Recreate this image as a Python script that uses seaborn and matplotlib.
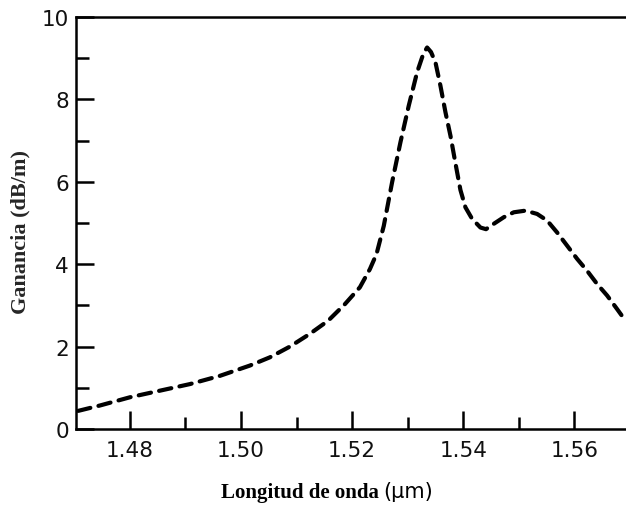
import numpy as np
import pandas as pd
import seaborn as sns
import matplotlib.pyplot as plt
from matplotlib.ticker import MultipleLocator
from matplotlib.offsetbox import TextArea, HPacker, AnchoredOffsetbox

# Erbium-doped fibre gain spectrum
longitud = [1.4707, 1.4746, 1.4800, 1.4854, 1.4908, 1.4962, 1.5016, 1.5052,
            1.5088, 1.5124, 1.5157, 1.5187, 1.5214, 1.5232, 1.5244, 1.5257,
            1.5272, 1.5287, 1.5302, 1.5317, 1.5328, 1.5335, 1.5342, 1.5350,
            1.5359, 1.5368, 1.5377, 1.5386, 1.5395, 1.5404, 1.5416, 1.5431,
            1.5441, 1.5455, 1.5473, 1.5491, 1.5512, 1.5533, 1.5551, 1.5569,
            1.5587, 1.5605, 1.5623, 1.5641, 1.5659, 1.5677, 1.5692]
ganancia = [0.44, 0.57, 0.77, 0.93, 1.09, 1.29, 1.54, 1.74,
            2.00, 2.31, 2.63, 3.03, 3.44, 3.88, 4.25, 4.93,
            5.99, 6.96, 7.85, 8.66, 9.10, 9.26, 9.15, 8.90,
            8.33, 7.69, 7.12, 6.45, 5.80, 5.38, 5.10, 4.89,
            4.85, 4.98, 5.14, 5.26, 5.30, 5.22, 5.06, 4.77,
            4.45, 4.13, 3.84, 3.52, 3.24, 2.91, 2.63]

df = pd.DataFrame({"longitud": longitud, "ganancia": ganancia})

sns.set_theme(style="ticks")
plt.rcParams["font.family"] = ["DejaVu Sans"]

fig = plt.figure(figsize=(6.26, 5.10), dpi=100)
ax = fig.add_axes([76 / 626, 1 - 430 / 510, 1 - 76 / 626, (430 - 18) / 510])

sns.lineplot(data=df, x="longitud", y="ganancia", ax=ax, color="black",
             linewidth=3.0, linestyle=(0, (3.0, 2.0)), dash_capstyle="round")

ax.set_xlim(1.4703, 1.5693)
ax.set_ylim(0, 10)
ax.xaxis.set_major_locator(MultipleLocator(0.02))
ax.xaxis.set_minor_locator(MultipleLocator(0.01))
ax.yaxis.set_major_locator(MultipleLocator(2))
ax.yaxis.set_minor_locator(MultipleLocator(1))
ax.xaxis.set_major_formatter(plt.FormatStrFormatter("%.2f"))

ax.tick_params(which="major", direction="in", length=13, width=1.8,
               labelsize=15.5, color="black", labelcolor="#111111")
ax.tick_params(axis="x", which="major", pad=8)
ax.tick_params(axis="y", which="major", pad=5)
ax.tick_params(which="minor", direction="in", length=9, width=1.8, color="black")

for side in ["left", "top", "bottom"]:
    ax.spines[side].set_linewidth(1.8)
    ax.spines[side].set_color("black")
ax.spines["right"].set_visible(False)

ax.set_xlabel("")
ax.set_ylabel("Ganancia (dB/m)", family="Liberation Serif", fontweight="bold",
              fontsize=16)
ax.yaxis.set_label_coords(-0.082, 0.48)

# x label: serif bold words followed by the unit in a sans face
part1 = TextArea("Longitud de onda ", textprops=dict(family="Liberation Serif",
                 fontweight="bold", fontsize=15, color="black"))
part2 = TextArea("(μm)", textprops=dict(family="DejaVu Sans", fontsize=15,
                 color="black"))
box = HPacker(children=[part1, part2], align="baseline", pad=0, sep=0)
anchored = AnchoredOffsetbox(loc="center", child=box, pad=0, frameon=False,
                             bbox_to_anchor=(327 / 626, 1 - 493 / 510),
                             bbox_transform=fig.transFigure, borderpad=0)
fig.add_artist(anchored)

fig.savefig("out.png", dpi=100)
